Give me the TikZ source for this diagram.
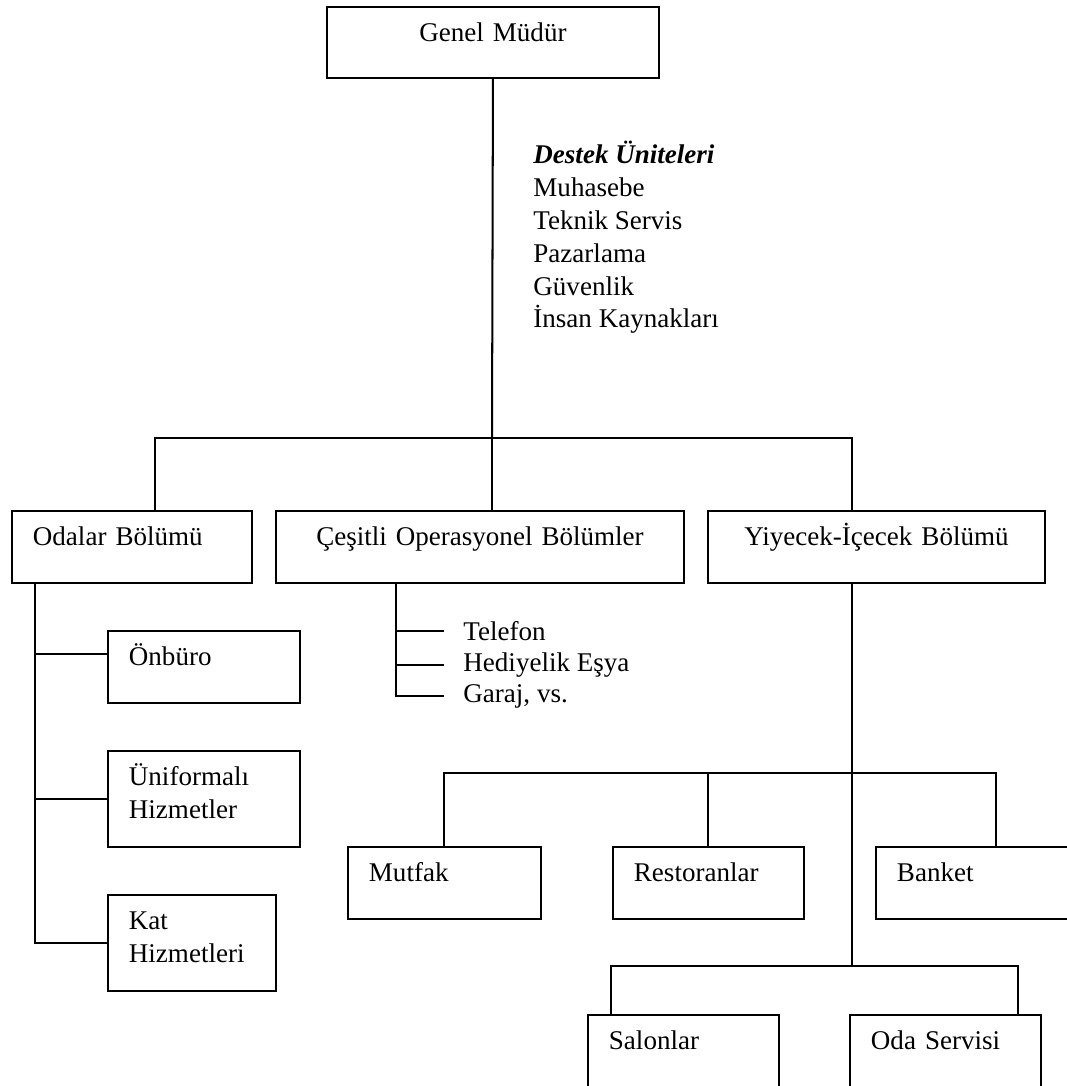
\documentclass[tikz,border=0pt]{standalone}
\usepackage{fontspec}
\setmainfont{Liberation Serif}
\usetikzlibrary{positioning,calc}
\tikzset{
  unit/.style 2 args={draw, line width=0.9pt, anchor=north west, inner ysep=0pt,
    inner xsep=9.3pt, text width=(#1-42)*0.444pt, text height=15.5pt,
    text depth=#2*0.444pt-15.5pt, align=left},
  head/.style={align=center},
  link/.style={line width=0.9pt},
  item/.style={anchor=base west, inner sep=0pt},
}

\begin{document}
\begin{tikzpicture}[x=0.444pt, y=-0.444pt, font=\fontsize{12pt}{14.65pt}\selectfont]
    \useasboundingbox (0,0) rectangle (1066,1086);
    % top
    \node[unit={332}{71}, head] (gm) at (326,6) {Genel Müdür};
    % base of a multi-line node is its last line
    \node[item, align=left] (staff) at (533,328) {\textbf{\textit{Destek Üniteleri}}\\Muhasebe\\Teknik Servis\\Pazarlama\\Güvenlik\\İnsan Kaynakları};
    % departments
    \node[unit={240}{72}] (rooms) at (11,510) {Odalar Bölümü};
    \node[unit={408}{72}, head] (ops) at (275,510) {Çeşitli Operasyonel Bölümler};
    \node[unit={337}{72}, head] (food) at (707,510) {Yiyecek-İçecek Bölümü};
    % rooms division
    \node[unit={192}{72}] (front) at (107,630) {Önbüro};
    \node[unit={192}{96}] (uniform) at (107,750) {Üniformalı\\Hizmetler};
    \node[unit={168}{96}] (house) at (107,894) {Kat\\Hizmetleri};
    % other operations
    \node[item] (tel) at (463,640) {Telefon};
    \node[item] (gift) at (463,671) {Hediyelik Eşya};
    \node[item] (garage) at (463,702) {Garaj, vs.};
    % food and beverage
    \node[unit={193}{72}] (kitchen) at (347,846) {Mutfak};
    \node[unit={191}{72}] (rest) at (612,846) {Restoranlar};
    \node[unit={193}{72}] (banq) at (875,846) {Banket};
    \node[unit={191}{72}] (lounge) at (587,1014) {Salonlar};
    \node[unit={191}{72}] (roomsvc) at (849,1014) {Oda Servisi};
    % bus points
    \coordinate (busA) at (492,438);
    \coordinate (dropL) at (155,438);
    \coordinate (dropR) at (852,438);
    \coordinate (roomsbar) at (35,582);
    \coordinate (fronttap) at ([yshift=5.8pt]front.west);
    \coordinate (opsbar) at (396,582);
    \coordinate (busB) at (852,773);
    \coordinate (dropBq) at (996,773);
    \coordinate (busC) at (852,966);
    \coordinate (dropSa) at (611,966);
    \coordinate (dropOd) at (1018,966);
    % main tree
    \draw[link] (gm.south) -- (busA);
    \draw[link] (rooms.north -| dropL) |- (dropR) -- (food.north -| dropR);
    \draw[link] (busA) -- (ops.north -| busA);
    % rooms branches
    \draw[link] (roomsbar) |- (house.west);
    \draw[link] (roomsbar |- uniform.west) -- (uniform.west);
    \draw[link] (roomsbar |- fronttap) -- (fronttap);
    % operations branches
    \draw[link, shorten >=8.4pt] (opsbar) |- (garage.west);
    \draw[link, shorten >=8.4pt] (opsbar |- gift.west) -- (gift.west);
    \draw[link, shorten >=8.4pt] (opsbar |- tel.west) -- (tel.west);
    % food branches
    \draw[link] (food.south -| busC) -- (busC);
    \draw[link] (kitchen.north) |- (dropBq) -- (dropBq |- banq.north);
    \draw[link] (busB -| rest.north) -- (rest.north);
    \draw[link] (dropSa |- lounge.north) |- (dropOd) -- (dropOd |- roomsvc.north);
  \end{tikzpicture}
\end{document}
